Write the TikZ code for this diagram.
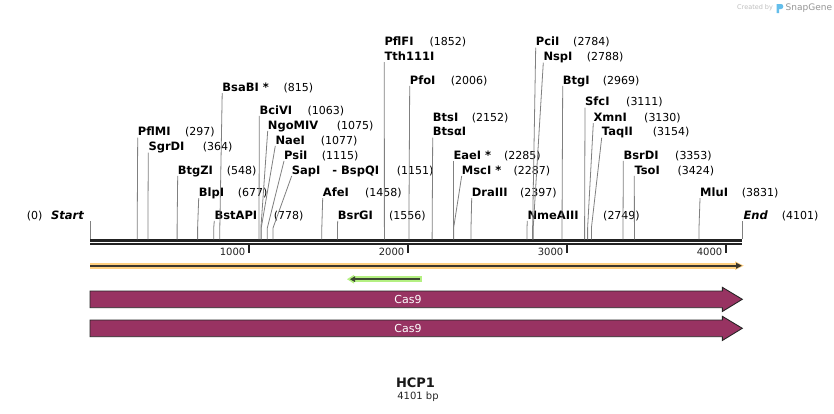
\documentclass[tikz,border=0pt]{standalone}
\usepackage{fontspec}
\setmainfont{DejaVu Sans}
\definecolor{cutline}{RGB}{128,128,128}
\definecolor{axisc}{RGB}{34,34,34}
\definecolor{orangeb}{RGB}{255,208,128}
\definecolor{darkl}{RGB}{60,55,45}
\definecolor{greenb}{RGB}{180,240,130}
\definecolor{greend}{RGB}{60,70,50}
\definecolor{casc}{RGB}{152,51,98}
\definecolor{sgblue}{RGB}{100,190,235}
\definecolor{sggray}{RGB}{150,150,150}
\tikzset{
  enz/.style={anchor=base west, inner sep=0pt, text depth=0pt, font=\fontsize{11.5}{13}\selectfont\bfseries},
  enzit/.style={enz, font=\fontsize{11.5}{13}\selectfont\bfseries\itshape},
  num/.style={anchor=base west, inner sep=0pt, font=\fontsize{11}{13}\selectfont},
  cutl/.style={draw=cutline, line width=0.8pt},
  axisl/.style={draw=axisc, line width=2.4pt},
  tickl/.style={draw=axisc, line width=1.6pt},
  ticklab/.style={anchor=east, inner sep=0pt, font=\fontsize{10}{12}\selectfont, text=axisc},
  casbox/.style={fill=casc, draw=black!85, line width=0.9pt},
  caslab/.style={inner sep=0pt, text=white, font=\fontsize{11}{13}\selectfont},
}
\begin{document}
\begin{tikzpicture}[x=1pt,y=-1pt]
\useasboundingbox (0,0) rectangle (834,413);
\fill[white] (0,0) rectangle (834,413);

% credit
\node[anchor=west, inner sep=0pt, text=black!25, font=\fontsize{6.5}{8}\selectfont] (cr) at (737,7.5) {Created by};
\fill[sgblue] (776.5,4) -- (781,4) .. controls (784,4) and (784,9) .. (781,9) -- (779,9) -- (779,13) -- (776.5,13) -- cycle;
\node[anchor=west, inner sep=0pt, text=sggray, font=\fontsize{9}{10}\selectfont] (sg) at (785.5,8) {SnapGene};

% axis
\draw[axisl] (90,240.3) -- (742,240.3);
\draw[axisl] (90,244.2) -- (742,244.2);
\foreach \k in {1,2,3,4}{
  \pgfmathsetmacro{\tx}{90+158.98*\k}
  \coordinate (tk\k) at (\tx,253);
  \draw[tickl] (\tx,245) -- (tk\k);
  \node[ticklab] (tl\k) at (\tx-3.5,252.3) {\k000};
}

% start / end
\node[num] (p0) at (26.7,219.4) {(0)};
\node[enzit] (st) at (51,219.4) {Start};
\coordinate (sst) at (90,239.3);
\draw[cutl] (90,221) -- (sst);
\node[enzit] (en) at (743.3,219.4) {End};
\node[num] (pen) at (781.7,219.4) {(4101)};
\coordinate (sen) at (742.6,239.3);
\draw[cutl] (742.6,221) -- (sen);

% enzymes
\foreach \nm/\nu/\sx/\lx/\ly/\nx [count=\i] in {
  PflMI/297/137.2/137.7/131.7/185,
  SgrDI/364/147.9/148.3/146.7/202.7,
  BtgZI/548/177.1/177.7/170/226.7,
  BlpI/677/197.6/198.7/192.3/237.7,
  BstAPI/778/213.7/214.3/215/273.7,
  BsaBI */815/219.8/222.2/87.3/283.3,
  BciVI/1063/259.0/259.3/110/307.3,
  NgoMIV/1075/260.9/267.7/125/336.7,
  NaeI/1077/261.2/275.3/140/320.7,
  PsiI/1115/267.3/284/155/321.7,
  SapI\hspace{12pt}- BspQI/1151/273.0/291.7/170/396.7,
  AfeI/1458/321.8/322.7/192.3/365,
  BsrGI/1556/337.4/337.7/215/389,
  PfoI/2006/408.9/409.7/80/450.7,
  EaeI */2285/453.3/453.3/155/504,
  MscI */2287/453.6/461.7/170/513.3,
  DraIII/2397/471.0/471.7/192.3/520,
  NmeAIII/2749/527.0/527.3/215/603,
  PciI/2784/532.6/535.7/41.7/573,
  NspI/2788/533.2/543.3/56.7/586.7,
  BtgI/2969/562.0/562.7/80/602.7,
  SfcI/3111/584.6/585/101.7/626,
  XmnI/3130/587.6/593.3/117.3/644,
  TaqII/3154/591.4/601.7/131.7/652.7,
  BsrDI/3353/623.0/623.3/155/675,
  TsoI/3424/634.4/634.3/170/677.3,
  MluI/3831/699.0/700/192.3/741.7}{
  \node[enz] (e\i) at (\lx,\ly+4.2) {\nm};
  \node[num] (p\i) at (\nx,\ly+4.2) {(\nu)};
  \coordinate (s\i) at (\sx,239.3);
  \draw[cutl] ([yshift=-1.5pt]e\i.south west) -- (\sx,228) -- (s\i);
}

% two-line labels
\node[enz] (ea) at (384.3,45.4) {PflFI};
\node[enz] (eb) at (384.3,60.4) {Tth111I};
\node[num] (pa) at (429.3,45.4) {(1852)};
\coordinate (sa) at (384.4,239.3);
\draw[cutl] ([yshift=-1.5pt]eb.south west) -- (sa);

\node[enz] (ec) at (432.7,121.5) {BtsI};
\node[enz] (ed) at (432.7,135.9) {BtsαI};
\node[num] (pc) at (471.7,121.5) {(2152)};
\coordinate (sc) at (432.1,239.3);
\draw[cutl] ([yshift=-1.5pt]ed.south west) -- (sc);

% orange arrow (full-length feature)
\fill[orangeb] (90,262.8) rectangle (736,268.6);
\fill[orangeb] (735,261.3) -- (743.8,265.7) -- (735,270.1) -- cycle;
\coordinate (oa) at (90,265.7);
\coordinate (ob) at (737,265.7);
\draw[darkl, line width=2pt] (oa) -- (ob);
\fill[darkl] (736,262.6) -- (741.8,265.7) -- (736,268.8) -- cycle;

% green arrow
\fill[greenb] (421.7,276.2) rectangle (353,282.2);
\fill[greenb] (354,274.8) -- (347,279.2) -- (354,283.6) -- cycle;
\coordinate (ga) at (420,279.2);
\coordinate (gb) at (354,279.2);
\draw[greend, line width=2pt] (ga) -- (gb);
\fill[greend] (355,276.3) -- (350,279.2) -- (355,282.1) -- cycle;

% Cas9 arrows
\filldraw[casbox] (90,291) -- (722.3,291) -- (722.3,287.3) -- (742.3,299.3) -- (722.3,311.5) -- (722.3,307.7) -- (90,307.7) -- cycle;
\node[caslab] (c1) at (408,299.3) {Cas9};
\filldraw[casbox] (90,320) -- (722.3,320) -- (722.3,316.3) -- (742.3,328.3) -- (722.3,340.5) -- (722.3,336.7) -- (90,336.7) -- cycle;
\node[caslab] (c2) at (408,328.3) {Cas9};

% title
\node[inner sep=0pt, font=\fontsize{13}{15}\selectfont\bfseries, text=black!90] (ttl) at (415.5,382.5) {HCP1};
\node[inner sep=0pt, font=\fontsize{10}{12}\selectfont, text=black!85] (len) at (418,396.5) {4101 bp};
\end{tikzpicture}
\end{document}
